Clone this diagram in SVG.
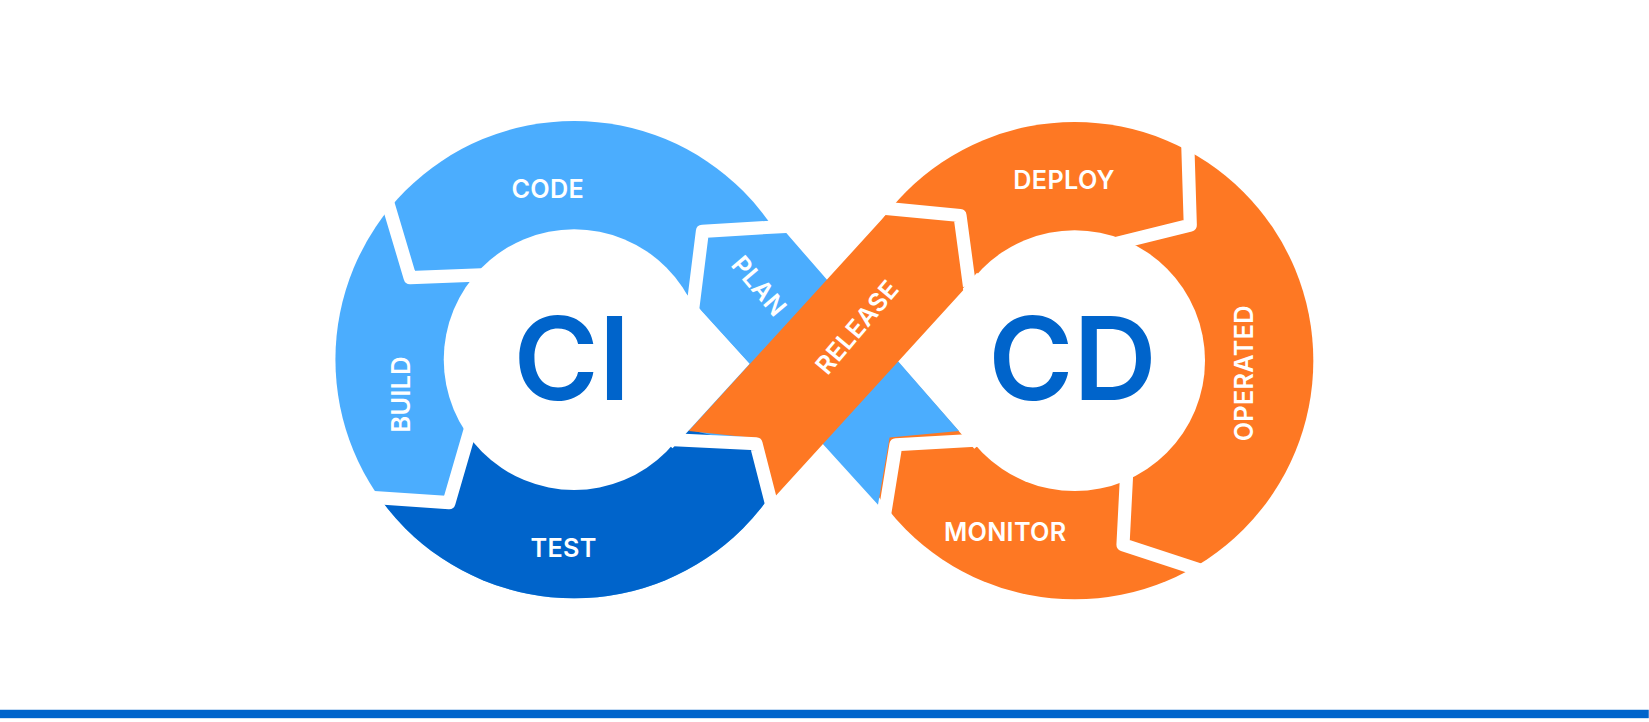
<svg xmlns="http://www.w3.org/2000/svg" width="1649" height="722" viewBox="0 0 1649 722">
<style>
.lb{fill:#4BADFE}.db{fill:#0064CB}.or{fill:#FE7823}.wh{fill:#FFFFFF}
.gap{fill:none;stroke:#FFFFFF;stroke-width:12.5;stroke-linejoin:round;stroke-linecap:butt}
.lbl{font-family:Inter,"Open Sans","Liberation Sans",sans-serif;font-weight:600;font-size:24px;fill:#FFFFFF;text-anchor:middle;dominant-baseline:central;letter-spacing:0.3px}
.big{font-family:Inter,"Open Sans","Liberation Sans",sans-serif;font-weight:600;font-size:110px;fill:#0064CB;text-anchor:middle;dominant-baseline:central}
</style>
<defs>
<clipPath id="clipCI"><polygon points="0,0 551.6,0 853,343 511.8,722 0,722"/></clipPath>
<clipPath id="clipTEST"><polygon points="290,472 427,478 452,390 600,395 722,425 745,510 745,722 290,722"/></clipPath>
<clipPath id="clipCD"><polygon points="1024.8,0 713,346 1054.7,722 1568,722 1568,0"/></clipPath>
</defs>
<rect width="1649" height="722" fill="#FFFFFF"/>
<g transform="scale(1.0515)">
<g id="ci-ring">
<g clip-path="url(#clipCI)"><circle class="lb" cx="546" cy="342" r="227"/>
<g clip-path="url(#clipTEST)"><circle class="db" cx="546" cy="342" r="227"/></g></g>
</g>
<g id="cd-ring"><g clip-path="url(#clipCD)"><circle class="or" cx="1022" cy="343" r="227"/></g></g>
<g id="holes">
<circle class="wh" cx="546" cy="342" r="124"/>
<polygon class="wh" points="635.6,260.7 713,346 639.6,426.4 546,342"/>
<circle class="wh" cx="1022" cy="343" r="124"/>
<polygon class="wh" points="929.2,259.3 853,343 926.6,426.8 1022,343"/>
</g>
<g id="plan-band"><polygon class="lb" points="667,295 666,218 742,215 912,410 846,416 835,480"/></g>
<g id="release-band"><polygon class="or" points="655,410 842,205 908,212 916,276 730,480 713,416"/></g>
<g id="connectors">
<polyline class="gap" points="365,180 390,264 470,261"/>
<polyline class="gap" points="338,472 427,478 452,392"/>
<polyline class="gap" points="658,300 668,220 752,215"/>
<polyline class="gap" points="636,418 719,422 737,492"/>
<polyline class="gap" points="830,197 913,205 922,272"/>
<polyline class="gap" points="940,418 852,423 840,497"/>
<polyline class="gap" points="1129,118 1132,214 1060,232"/>
<polyline class="gap" points="1072,440 1068,518 1150,545"/>
</g>
<g id="labels">
<text class="lbl" x="521" y="180">CODE</text>
<text class="lbl" transform="translate(381,375) rotate(-90)">BUILD</text>
<text class="lbl" x="536" y="521">TEST</text>
<text class="lbl" transform="translate(722,272) rotate(50)">PLAN</text>
<text class="lbl" transform="translate(815,311) rotate(-50)">RELEASE</text>
<text class="lbl" x="1012" y="171">DEPLOY</text>
<text class="lbl" transform="translate(1183,355) rotate(-90)">OPERATED</text>
<text class="lbl" x="956" y="506">MONITOR</text>
</g>
<g id="ci"><text class="big" x="544" y="340">CI</text></g>
<g id="cd"><text class="big" x="1020" y="340">CD</text></g>
<rect x="0" y="675" width="1568" height="8" class="db"/>
</g>
</svg>
